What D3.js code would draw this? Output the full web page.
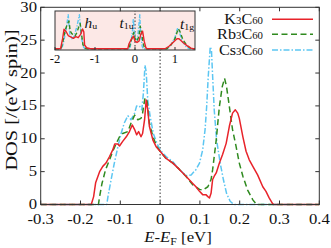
<!DOCTYPE html>
<html><head><meta charset="utf-8">
<script src="https://cdn.jsdelivr.net/npm/d3@7"></script>
<style>
html,body{margin:0;padding:0;background:#fff;}
svg{display:block;font-family:"Liberation Serif","Times New Roman",serif;}
</style></head>
<body><svg id="c" width="331" height="248"></svg>
<script>
// ---- data ----
const seriesNames = ["K3C60", "Rb3C60", "Cs3C60"];
const xTicks = [-0.3, -0.2, -0.1, 0, 0.1, 0.2, 0.3, 0.4];
const yTicks = [0, 5, 10, 15, 20, 25, 30];
const insetTicks = [-2, -1, 0, 1];

const k3c60 = [[-0.3,0],[-0.173,0],[-0.167,1.2],[-0.162,3.3],[-0.152,5.0],[-0.144,5.8],[-0.136,6.3],[-0.127,7.3],[-0.119,8.3],[-0.114,9.2],[-0.106,9.2],[-0.102,8.9],[-0.094,9.6],[-0.085,10.3],[-0.077,11.1],[-0.070,12.1],[-0.064,11.4],[-0.059,10.6],[-0.054,11.1],[-0.048,10.3],[-0.044,10.8],[-0.039,12.9],[-0.035,15.9],[-0.031,14.4],[-0.027,11.9],[-0.018,9.8],[-0.010,8.8],[0,8.1],[0.015,7.0],[0.032,6.3],[0.049,5.3],[0.065,4.3],[0.082,3.2],[0.090,2.7],[0.099,2.0],[0.107,1.5],[0.115,1.5],[0.120,1.2],[0.124,1.0],[0.128,1.7],[0.132,3.8],[0.136,4.3],[0.141,4.8],[0.149,6.3],[0.157,7.6],[0.166,9.3],[0.174,11.9],[0.182,13.9],[0.189,14.4],[0.195,13.9],[0.199,13.1],[0.208,10.3],[0.216,8.1],[0.224,6.8],[0.233,5.8],[0.245,4.5],[0.258,2.7],[0.266,2.0],[0.274,1.0],[0.283,0.1],[0.286,0],[0.4,0]];
const rb3c60 = [[-0.3,0],[-0.155,0],[-0.152,1.2],[-0.146,3.2],[-0.137,5.3],[-0.127,6.8],[-0.119,8.1],[-0.110,9.3],[-0.102,10.3],[-0.094,10.8],[-0.081,11.1],[-0.073,12.4],[-0.064,13.6],[-0.056,12.9],[-0.048,13.1],[-0.044,13.9],[-0.038,16.2],[-0.033,15.9],[-0.027,12.4],[-0.018,10.3],[-0.008,8.8],[0,8.1],[0.015,7.0],[0.032,6.3],[0.049,5.3],[0.065,4.3],[0.082,3.0],[0.099,2.3],[0.107,2.2],[0.120,2.7],[0.128,3.8],[0.132,5.3],[0.136,7.3],[0.141,9.8],[0.145,12.4],[0.149,14.9],[0.156,17.9],[0.162,19.2],[0.167,17.9],[0.174,14.9],[0.182,11.4],[0.191,8.8],[0.199,6.3],[0.208,4.3],[0.220,2.2],[0.233,0.7],[0.241,0.1],[0.244,0],[0.4,0]];
const cs3c60 = [[-0.3,0],[-0.134,0],[-0.131,1.2],[-0.123,3.8],[-0.115,6.3],[-0.106,8.8],[-0.098,10.8],[-0.090,12.4],[-0.081,13.5],[-0.073,12.9],[-0.064,13.9],[-0.059,15.0],[-0.052,15.0],[-0.046,14.4],[-0.042,16.9],[-0.038,21.2],[-0.035,20.2],[-0.031,15.9],[-0.025,13.4],[-0.017,10.8],[-0.008,9.3],[0,8.3],[0.015,7.3],[0.032,6.5],[0.049,5.3],[0.065,4.4],[0.078,4.5],[0.090,5.3],[0.099,6.3],[0.107,8.3],[0.113,11.4],[0.117,14.9],[0.121,19.5],[0.126,24.0],[0.129,23.5],[0.132,19.5],[0.136,14.4],[0.142,9.8],[0.151,6.3],[0.159,3.8],[0.167,1.7],[0.176,0.5],[0.184,0.05],[0.187,0],[0.4,0]];

// inset (wide energy range)
const k3c60Wide = [[-2,0],[-1.86,0],[-1.81,8],[-1.775,15.5],[-1.72,13.5],[-1.67,10.5],[-1.61,9.5],[-1.54,8.3],[-1.48,9.6],[-1.42,8.8],[-1.36,11.4],[-1.31,15.7],[-1.28,13.5],[-1.26,3],[-1.21,0.8],[-1.12,0],[-0.18,0],[-0.15,4],[-0.1,7],[-0.04,10],[0,6],[0.05,5],[0.1,6],[0.15,12],[0.19,14],[0.23,6],[0.27,1],[0.3,0],[0.75,0],[0.85,2],[0.95,5],[1.05,8],[1.1,8],[1.2,5],[1.3,2.5],[1.4,0.5],[1.45,0],[1.5,0]];
const rb3c60Wide = [[-2,0],[-1.85,0],[-1.8,6],[-1.75,14],[-1.7,19],[-1.65,22],[-1.62,14],[-1.58,12],[-1.5,10],[-1.45,13],[-1.4,18],[-1.37,20],[-1.33,10],[-1.3,3],[-1.25,0.5],[-1.2,0],[-0.15,0],[-0.12,4],[-0.06,10],[-0.03,13],[0,8],[0.05,6],[0.1,10],[0.13,18],[0.16,14],[0.2,5],[0.24,0],[0.8,0],[0.9,3],[1.0,8],[1.08,16],[1.12,14],[1.2,7],[1.3,2.5],[1.4,0],[1.5,0]];
const cs3c60Wide = [[-2,0],[-1.83,0],[-1.78,6],[-1.72,16],[-1.67,27],[-1.63,12],[-1.58,8],[-1.52,10],[-1.45,18],[-1.39,27],[-1.35,12],[-1.3,2],[-1.25,0],[-0.13,0],[-0.1,5],[-0.06,15],[-0.04,24],[-0.02,14],[0.02,8],[0.06,7],[0.1,20],[0.12,27],[0.14,12],[0.18,2],[0.2,0],[0.82,0],[0.9,3],[1.0,9],[1.06,16],[1.1,14],[1.18,6],[1.28,1.5],[1.35,0],[1.5,0]];

// ---- styles ----
const colors = ["#e8232a", "#2f8a1f", "#5cc6f2"];
const dashes = [null, "6,3.5", "6,2,1.5,2"];
const SX = 1.15; // horizontal stretch of the reference's lettering

const svg = d3.select("#c");
const M = {l: 40.7, r: 319.3, t: 7.3, b: 204.5};
const x = d3.scaleLinear().domain([-0.3, 0.4]).range([M.l, M.r]);
const y = d3.scaleLinear().domain([0, 30]).range([M.b, M.t]);
const frameColor = "#333";

function txt(px, py, size, anchor, sx) {
  return svg.append("text").attr("transform", `translate(${px},${py}) scale(${sx || SX},1)`)
    .attr("text-anchor", anchor).attr("font-size", size).attr("fill", "#111");
}

// zero line
svg.append("line").attr("x1", x(0)).attr("x2", x(0)).attr("y1", y(0)).attr("y2", y(30))
  .attr("stroke", frameColor).attr("stroke-width", 1).attr("stroke-dasharray", "1.5,2");

const line = d3.line().x(d => x(d[0])).y(d => y(d[1]));
const mainData = [k3c60, rb3c60, cs3c60];
[2, 1, 0].forEach(i => {
  svg.append("path").datum(mainData[i]).attr("d", line)
    .attr("fill", "none").attr("stroke", colors[i]).attr("stroke-width", 1.5)
    .attr("stroke-dasharray", dashes[i]).attr("stroke-linejoin", "round");
});

// ---- inset ----
const I = {l: 55, r: 195, t: 11, b: 50};
const xi = d3.scaleLinear().domain([-2, 1.5]).range([I.l, I.r]);
const yi = d3.scaleLinear().domain([-1, 30]).range([I.b, I.t]);
svg.append("rect").attr("x", I.l).attr("y", I.t).attr("width", I.r - I.l).attr("height", I.b - I.t)
  .attr("fill", "#fce8e6");
svg.append("line").attr("x1", xi(0)).attr("x2", xi(0)).attr("y1", I.b).attr("y2", I.t)
  .attr("stroke", frameColor).attr("stroke-dasharray", "1.5,2");
const lineI = d3.line().x(d => xi(d[0])).y(d => yi(d[1]));
const insetData = [k3c60Wide, rb3c60Wide, cs3c60Wide];
[2, 1, 0].forEach(i => {
  svg.append("path").datum(insetData[i]).attr("d", lineI)
    .attr("fill", "none").attr("stroke", colors[i]).attr("stroke-width", 1.4)
    .attr("stroke-dasharray", dashes[i] ? (i === 1 ? "4,2.5" : "4,1.5,1.2,1.5") : null)
    .attr("stroke-linejoin", "round");
});
svg.append("rect").attr("x", I.l).attr("y", I.t).attr("width", I.r - I.l).attr("height", I.b - I.t)
  .attr("fill", "none").attr("stroke", frameColor).attr("stroke-width", 1);
insetTicks.forEach(t => {
  svg.append("line").attr("x1", xi(t)).attr("x2", xi(t)).attr("y1", I.b).attr("y2", I.b - 3).attr("stroke", frameColor);
  txt(xi(t), 63, 11.5, "middle", 1.1).text(String(t));
});
function band(xp, yp, main, sub) {
  const t = txt(xp, yp, 14, "start", 1.1);
  t.append("tspan").attr("font-style", "italic").text(main);
  t.append("tspan").attr("font-size", 9).attr("dy", 1).text(sub);
}
band(84.5, 28, "h", "u");
band(119.5, 28, "t", "1u");
band(180, 28.5, "t", "1g");

// ---- frame & axes ----
svg.append("rect").attr("x", M.l).attr("y", M.t).attr("width", M.r - M.l).attr("height", M.b - M.t)
  .attr("fill", "none").attr("stroke", frameColor).attr("stroke-width", 1);
const tickLen = 4;
xTicks.forEach(t => {
  svg.append("line").attr("x1", x(t)).attr("x2", x(t)).attr("y1", M.b).attr("y2", M.b - tickLen).attr("stroke", frameColor);
  svg.append("line").attr("x1", x(t)).attr("x2", x(t)).attr("y1", M.t).attr("y2", M.t + tickLen).attr("stroke", frameColor);
  txt(x(t), 223.5, 14.5, "middle").text(t === 0 ? "0" : d3.format(".1f")(t).replace("−", "-"));
});
yTicks.forEach(t => {
  svg.append("line").attr("x1", M.l).attr("x2", M.l + tickLen).attr("y1", y(t)).attr("y2", y(t)).attr("stroke", frameColor);
  svg.append("line").attr("x1", M.r).attr("x2", M.r - tickLen).attr("y1", y(t)).attr("y2", y(t)).attr("stroke", frameColor);
  txt(37, y(t) + 4.5, 14.5, "end").text(t);
});

// axis titles
const xt = txt(178, 241.5, 15, "middle", 1.12);
xt.append("tspan").attr("font-style", "italic").text("E");
xt.append("tspan").text("-");
xt.append("tspan").attr("font-style", "italic").text("E");
xt.append("tspan").attr("font-size", 10.5).attr("dy", 3).text("F");
xt.append("tspan").attr("dy", -3).text(" [eV]");

svg.append("text").attr("transform", "translate(17,100) rotate(-90) scale(1.2,1)").attr("text-anchor", "middle")
  .attr("font-size", 17).attr("fill", "#111").text("DOS [/(eV spin)]");

// ---- legend ----
const legendRows = [
  {el: "K", y: 23.5, ly: 19.3},
  {el: "Rb", y: 38.5, ly: 34.3},
  {el: "Cs", y: 54.5, ly: 50}
];
legendRows.forEach((r, i) => {
  const t = txt(263, r.y, 15, "end", 1.08);
  t.append("tspan").text(r.el);
  t.append("tspan").attr("font-size", 10).text("3");
  t.append("tspan").text("C");
  t.append("tspan").attr("font-size", 10).text("60");
  svg.append("line").attr("x1", 272).attr("x2", 313).attr("y1", r.ly).attr("y2", r.ly)
    .attr("stroke", colors[i]).attr("stroke-width", 1.5).attr("stroke-dasharray", dashes[i]);
});
</script></body></html>
